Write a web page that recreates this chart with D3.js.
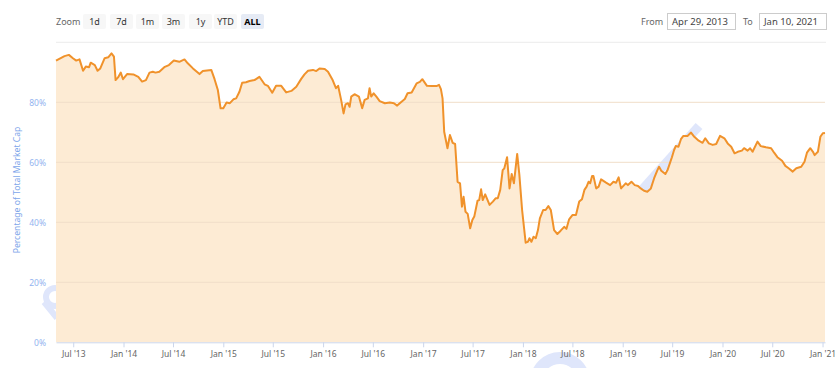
<!DOCTYPE html>
<html>
<head>
<meta charset="utf-8">
<script src="https://cdn.jsdelivr.net/npm/d3@7"></script>
<style>
  body { margin: 0; background: #fff; }
  svg { display: block; font-family: "Noto Sans", sans-serif; }
</style>
</head>
<body>
<svg id="chart"></svg>
<script>
const W = 837, H = 368;
const plot = {left: 56, right: 825, top: 42.3, bottom: 342.3};

// data
const dates = [
  '2013-04-29','2013-05-30','2013-06-15','2013-06-30','2013-07-12','2013-07-24','2013-08-06','2013-08-16','2013-08-28','2013-09-03',
  '2013-09-18','2013-09-28','2013-10-08','2013-10-24','2013-11-06','2013-11-18','2013-11-27','2013-12-03','2013-12-12','2013-12-22',
  '2013-12-30','2014-01-14','2014-02-06','2014-02-24','2014-03-10','2014-03-24','2014-04-06','2014-04-18','2014-04-28','2014-05-12',
  '2014-05-30','2014-06-16','2014-07-04','2014-07-24','2014-08-12','2014-08-24','2014-09-12','2014-10-06','2014-10-18','2014-11-18',
  '2014-11-30','2014-12-12','2014-12-22','2015-01-01','2015-01-13','2015-01-25','2015-02-07','2015-02-17','2015-03-01','2015-03-11',
  '2015-03-25','2015-04-07','2015-04-25','2015-05-13','2015-06-01','2015-06-13','2015-06-29','2015-07-13','2015-08-01','2015-08-19',
  '2015-09-07','2015-09-25','2015-10-13','2015-10-25','2015-11-07','2015-11-25','2015-12-07','2015-12-19','2016-01-07','2016-01-19',
  '2016-02-05','2016-02-17','2016-02-25','2016-03-07','2016-03-16','2016-03-23','2016-04-01','2016-04-07','2016-04-13','2016-04-25',
  '2016-05-11','2016-05-23','2016-06-01','2016-06-13','2016-06-19','2016-06-25','2016-07-04','2016-07-14','2016-07-26','2016-08-14',
  '2016-09-01','2016-09-16','2016-09-28','2016-10-14','2016-10-26','2016-11-05','2016-11-20','2016-12-08','2016-12-20','2016-12-29',
  '2017-01-15','2017-01-31','2017-02-19','2017-02-28','2017-03-07','2017-03-13','2017-03-19','2017-03-31','2017-04-09','2017-04-19',
  '2017-04-28','2017-05-07','2017-05-16','2017-05-23','2017-05-29','2017-06-05','2017-06-13','2017-06-22','2017-06-30','2017-07-07',
  '2017-07-19','2017-07-25','2017-08-01','2017-08-07','2017-08-16','2017-09-01','2017-09-13','2017-09-23','2017-10-01','2017-10-10',
  '2017-10-19','2017-10-25','2017-11-04','2017-11-13','2017-11-21','2017-11-29','2017-12-11','2017-12-19','2017-12-29','2018-01-11',
  '2018-01-19','2018-01-25','2018-02-01','2018-02-09','2018-02-17','2018-02-25','2018-03-04','2018-03-16','2018-03-25','2018-04-04',
  '2018-04-13','2018-04-25','2018-05-07','2018-05-19','2018-06-01','2018-06-09','2018-06-19','2018-07-01','2018-07-14','2018-07-26',
  '2018-08-05','2018-08-14','2018-08-22','2018-08-29','2018-09-04','2018-09-11','2018-09-16','2018-09-26','2018-10-05','2018-10-14',
  '2018-11-01','2018-11-16','2018-11-28','2018-12-08','2018-12-17','2018-12-26','2019-01-12','2019-01-20','2019-02-02','2019-02-14',
  '2019-02-26','2019-03-08','2019-03-20','2019-04-01','2019-04-14','2019-04-26','2019-05-08','2019-05-14','2019-05-22','2019-06-06',
  '2019-06-14','2019-06-30','2019-07-08','2019-07-14','2019-07-24','2019-08-02','2019-08-11','2019-08-26','2019-09-08','2019-09-20',
  '2019-10-06','2019-10-20','2019-10-30','2019-11-12','2019-11-26','2019-12-09','2019-12-23','2020-01-08','2020-01-20','2020-02-02',
  '2020-02-14','2020-02-26','2020-03-12','2020-03-20','2020-04-02','2020-04-11','2020-04-20','2020-05-08','2020-05-20','2020-06-08',
  '2020-06-27','2020-07-08','2020-07-20','2020-08-06','2020-08-18','2020-08-30','2020-09-14','2020-09-27','2020-10-15','2020-10-27',
  '2020-11-05','2020-11-17','2020-11-27','2020-12-03','2020-12-15','2020-12-24','2021-01-02','2021-01-10'
];
const dominance = [
  93.9,95.4,95.8,94.7,93.9,94.3,90.5,91.9,91.7,93.2,
  92.4,90.5,91.3,94.7,95.0,96.3,95.2,87.4,88.3,89.9,
  87.7,89.4,89.3,88.5,86.9,87.4,89.9,90.2,89.9,90.2,
  91.7,92.4,93.9,93.5,94.3,93.0,91.3,89.4,90.4,90.8,
  87.7,84.1,78.0,78.0,79.9,79.7,81.0,81.3,83.5,86.5,
  86.7,87.1,87.4,88.5,86.0,85.5,83.2,85.5,85.5,83.3,
  83.8,85.2,87.8,89.3,90.5,90.8,90.4,91.3,91.1,90.2,
  87.4,84.7,85.5,80.8,76.3,79.3,79.7,78.5,81.9,82.7,
  81.9,78.0,80.8,81.3,84.7,81.9,83.0,81.9,80.4,79.7,
  79.9,79.7,78.9,80.2,81.1,83.0,83.3,86.3,86.8,87.7,
  85.5,85.4,85.4,85.8,84.4,81.3,70.2,64.7,69.1,66.5,
  66.1,53.5,53.0,45.2,48.5,43.5,42.8,38.0,40.8,41.9,
  47.2,47.4,51.0,47.4,49.3,45.8,46.9,48.0,48.0,50.8,
  57.4,58.0,61.7,51.3,56.1,53.0,62.8,55.8,44.1,33.2,
  33.5,34.7,33.5,35.2,34.7,37.4,41.3,44.1,44.1,45.4,
  44.1,37.4,36.1,37.2,38.5,37.8,41.0,42.4,42.4,46.9,
  47.7,50.8,51.9,53.5,53.0,55.4,55.4,51.3,51.9,54.3,
  53.2,52.4,53.5,53.2,55.0,51.3,53.0,52.4,53.5,52.4,
  52.1,51.3,50.5,50.2,51.3,54.7,57.4,58.5,57.2,56.1,
  57.4,61.7,64.1,65.4,65.2,67.7,68.8,68.8,69.9,68.5,
  67.2,66.5,68.0,66.3,65.8,66.1,68.8,68.0,66.3,65.2,
  63.0,63.5,63.9,64.7,63.9,64.7,63.5,66.9,65.4,65.0,
  64.7,63.2,61.7,60.5,58.8,58.0,56.9,58.0,58.5,60.2,
  63.2,64.7,63.5,62.4,63.5,68.5,69.7,69.8
];
const yTicks = [0, 20, 40, 60, 80];
const xTickDates = ['2013-07-01','2014-01-01','2014-07-01','2015-01-01','2015-07-01','2016-01-01','2016-07-01','2017-01-01',
  '2017-07-01','2018-01-01','2018-07-01','2019-01-01','2019-07-01','2020-01-01','2020-07-01','2021-01-01'];
const xTickLabels = ["Jul '13","Jan '14","Jul '14","Jan '15","Jul '15","Jan '16","Jul '16","Jan '17",
  "Jul '17","Jan '18","Jul '18","Jan '19","Jul '19","Jan '20","Jul '20","Jan '21"];
const zoomButtons = ['1d', '7d', '1m', '3m', '1y', 'YTD', 'ALL'];
const rangeFrom = 'Apr 29, 2013', rangeTo = 'Jan 10, 2021';
const yTitle = 'Percentage of Total Market Cap';

const parse = d3.timeParse('%Y-%m-%d');
const data = dates.map((d, i) => ({date: parse(d), value: dominance[i]}));

const svg = d3.select('#chart').attr('width', W).attr('height', H);

const x = d3.scaleTime()
    .domain([parse('2013-04-29'), parse('2021-01-10')])
    .range([plot.left, plot.right]);
const y = d3.scaleLinear()
    .domain([0, 100])
    .range([plot.bottom, plot.top]);

// faint watermark behind the plot
const wm = svg.append('g').attr('fill', 'none').attr('stroke', '#dfe6fb');
wm.append('circle').attr('cx', 55).attr('cy', 297).attr('r', 9).attr('stroke-width', 6);
wm.append('line').attr('x1', 44).attr('y1', 302).attr('x2', 57).attr('y2', 318).attr('stroke-width', 6);
wm.append('circle').attr('cx', 560).attr('cy', 382).attr('r', 24).attr('stroke-width', 12);
wm.append('line').attr('x1', 699).attr('y1', 126).attr('x2', 640).attr('y2', 192).attr('stroke-width', 9);

// top rule (100%)
svg.append('line')
    .attr('x1', plot.left).attr('x2', plot.right + 1)
    .attr('y1', y(100)).attr('y2', y(100))
    .attr('stroke', '#ececec');

// area + line
svg.append('path')
    .datum(data)
    .attr('fill', '#fdebd4')
    .attr('d', d3.area().x(d => x(d.date)).y0(y(0)).y1(d => y(d.value)));

// grid lines
svg.append('g')
  .selectAll('line')
  .data(yTicks.filter(t => t > 0))
  .join('line')
    .attr('x1', plot.left).attr('x2', plot.right)
    .attr('y1', d => y(d)).attr('y2', d => y(d))
    .attr('stroke', '#f1dec8');

svg.append('path')
    .datum(data)
    .attr('fill', 'none')
    .attr('stroke', '#f0922b')
    .attr('stroke-width', 2)
    .attr('stroke-linejoin', 'round')
    .attr('d', d3.line().x(d => x(d.date)).y(d => y(d.value)));

// x axis
const xAxis = svg.append('g')
    .attr('transform', `translate(0,${plot.bottom})`)
    .call(d3.axisBottom(x)
      .tickValues(xTickDates.map(parse))
      .tickFormat((d, i) => xTickLabels[i])
      .tickSize(5)
      .tickPadding(4)
      .tickSizeOuter(0));
xAxis.select('.domain').attr('stroke', '#ccd6eb');
xAxis.selectAll('.tick line').attr('stroke', '#ccd6eb');
xAxis.selectAll('.tick text').attr('fill', '#666').attr('font-size', 8.5).attr('font-family', 'Noto Sans');

// y axis
const yAxis = svg.append('g')
    .attr('transform', `translate(${plot.left},0)`)
    .call(d3.axisLeft(y).tickValues(yTicks).tickFormat(d => d + '%').tickSize(0).tickPadding(10));
yAxis.select('.domain').remove();
yAxis.selectAll('.tick text').attr('fill', '#93b4ef').attr('font-size', 8.5).attr('font-family', 'Noto Sans');

svg.append('text')
    .attr('transform', 'rotate(-90)')
    .attr('x', -190)
    .attr('y', 20)
    .attr('text-anchor', 'middle')
    .attr('fill', '#7ea6ea')
    .attr('font-size', 8.6)
    .text(yTitle);

// range selector buttons
svg.append('text')
    .attr('x', 56).attr('y', 24.5)
    .attr('fill', '#666').attr('font-size', 9)
    .text('Zoom');

const btnX = [83, 110, 136, 162, 189, 214, 241];
const btn = svg.append('g').selectAll('g')
  .data(zoomButtons)
  .join('g')
    .attr('transform', (d, i) => `translate(${btnX[i]},14)`);
btn.append('rect')
    .attr('width', 23).attr('height', 15).attr('rx', 2)
    .attr('fill', d => d === 'ALL' ? '#e6ebf5' : '#f7f7f7');
btn.append('text')
    .attr('x', 11.5).attr('y', 10.8)
    .attr('text-anchor', 'middle')
    .attr('font-size', 9)
    .attr('font-weight', d => d === 'ALL' ? 'bold' : 'normal')
    .attr('fill', d => d === 'ALL' ? '#000' : '#333')
    .text(d => d);

// date range inputs
const inputs = [
  {label: 'From', lx: 641, bx: 667, bw: 68, value: rangeFrom},
  {label: 'To', lx: 743, bx: 759, bw: 67, value: rangeTo}
];
inputs.forEach(inp => {
  svg.append('text').attr('x', inp.lx).attr('y', 24.5)
      .attr('fill', '#666').attr('font-size', 9).text(inp.label);
  svg.append('rect').attr('x', inp.bx + 0.5).attr('y', 13.5)
      .attr('width', inp.bw).attr('height', 16)
      .attr('fill', '#fff').attr('stroke', '#cccccc');
  svg.append('text').attr('x', inp.bx + 5).attr('y', 24.5)
      .attr('fill', '#444').attr('font-size', 9.5).text(inp.value);
});
</script>
</body>
</html>
